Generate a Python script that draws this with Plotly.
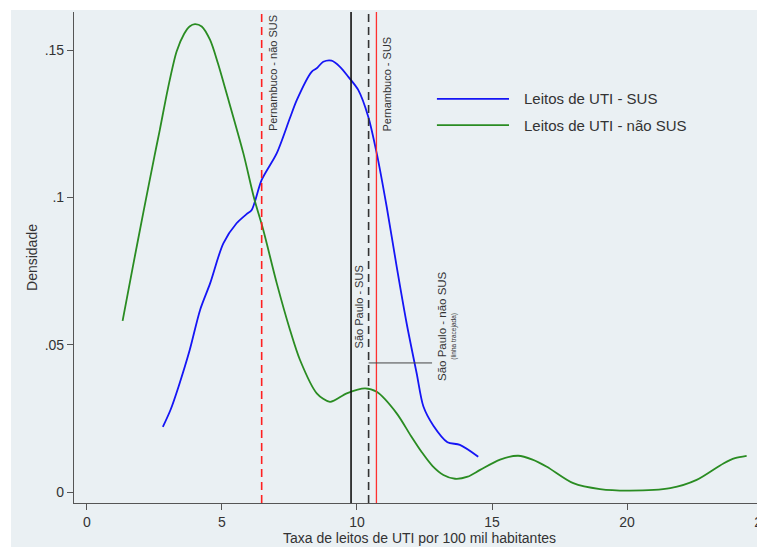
import plotly.graph_objects as go

# Density curves
sus_x = [2.81, 3.1, 3.4, 3.8, 4.19, 4.56, 5.05, 5.54, 5.91, 6.1, 6.47, 7.03, 7.52, 7.77,
         8.32, 8.51, 8.75, 9.06, 9.37, 9.68, 10.05, 10.42, 10.73, 11.1, 11.47, 11.84,
         12.21, 12.46, 12.83, 13.35, 13.81, 14.49]
sus_y = [0.0221, 0.028, 0.036, 0.048, 0.0618, 0.0708, 0.0844, 0.0912, 0.0943, 0.0957,
         0.1059, 0.115, 0.127, 0.133, 0.1426, 0.1438, 0.146, 0.1464, 0.1443, 0.1409,
         0.1364, 0.1273, 0.115, 0.0968, 0.0765, 0.0572, 0.0403, 0.029, 0.0225, 0.0169,
         0.016, 0.012]

nsus_x = [1.32, 1.7, 2.09, 2.5, 2.7, 3.0, 3.32, 3.6, 3.8, 4.0, 4.25, 4.56, 4.85, 5.17,
          5.79, 6.19, 6.53, 7.03, 7.52, 7.89, 8.51, 9.0, 9.62, 10.3, 10.73, 11.47, 12.0,
          12.4, 12.8, 13.2, 13.63, 14.1, 14.56, 15.3, 15.97, 16.5, 17.03, 18.01, 19.0,
          20.1, 21.6, 22.58, 23.57, 24.0, 24.43]
nsus_y = [0.0581, 0.0765, 0.095, 0.114, 0.123, 0.137, 0.1495, 0.1555, 0.158, 0.1588,
          0.158, 0.1534, 0.1455, 0.1353, 0.115, 0.0997, 0.0889, 0.0708, 0.055, 0.0448,
          0.0335, 0.0306, 0.0335, 0.0352, 0.034, 0.0267, 0.019, 0.0135, 0.0088, 0.0058,
          0.0045, 0.0052, 0.0075, 0.011, 0.0123, 0.011, 0.0086, 0.003, 0.001, 0.0005,
          0.0013, 0.0041, 0.0097, 0.0115, 0.0123]

series_names = ["Leitos de UTI - SUS", "Leitos de UTI - não SUS"]

# Reference lines
pe_nsus = 6.47
sp_sus = 9.78
sp_nsus = 10.43
pe_sus = 10.72

x_ticks = [0, 5, 10, 15, 20, 25]
y_ticks = [0, 0.05, 0.1, 0.15]
y_ticktext = ["0", ".05", ".1", ".15"]

BLUE = "#1515f5"
GREEN = "#2a8c22"
FONT = "Liberation Sans, Arial, sans-serif"
TXT = "#333333"

fig = go.Figure()
fig.add_trace(go.Scatter(x=sus_x, y=sus_y, mode="lines", name=series_names[0],
                         line=dict(color=BLUE, width=1.8, shape="spline", smoothing=0.8),
                         showlegend=False))
fig.add_trace(go.Scatter(x=nsus_x, y=nsus_y, mode="lines", name=series_names[1],
                         line=dict(color=GREEN, width=1.8, shape="spline", smoothing=0.8),
                         showlegend=False))

shapes = []
# outer grey background region
shapes.append(dict(type="rect", xref="paper", yref="paper", x0=-0.0912, x1=1.0,
                   y0=-0.0896, y1=1.004, fillcolor="#eaf0f3", line=dict(width=0),
                   layer="below"))
# vertical reference lines
shapes.append(dict(type="line", xref="x", yref="y domain", x0=pe_nsus, x1=pe_nsus, y0=0, y1=1,
                   line=dict(color="#ff2020", width=1.6, dash="8px,5px")))
shapes.append(dict(type="line", xref="x", yref="y domain", x0=sp_sus, x1=sp_sus, y0=0, y1=1,
                   line=dict(color="#111111", width=1.6)))
shapes.append(dict(type="line", xref="x", yref="y domain", x0=sp_nsus, x1=sp_nsus, y0=0, y1=1,
                   line=dict(color="#333333", width=1.6, dash="8px,5px")))
shapes.append(dict(type="line", xref="x", yref="y domain", x0=pe_sus, x1=pe_sus, y0=0, y1=1,
                   line=dict(color="#ff3030", width=1.3)))
# connector for São Paulo - não SUS
shapes.append(dict(type="line", xref="x", yref="y", x0=sp_nsus, x1=12.78, y0=0.0438, y1=0.0438,
                   line=dict(color="#444444", width=1)))
# manual legend keys
shapes.append(dict(type="line", xref="x", yref="y", x0=12.96, x1=15.63, y0=0.1334, y1=0.1334,
                   line=dict(color=BLUE, width=1.8)))
shapes.append(dict(type="line", xref="x", yref="y", x0=12.96, x1=15.63, y0=0.1245, y1=0.1245,
                   line=dict(color=GREEN, width=1.8)))

annotations = []
def vlabel(text, x, y, size):
    annotations.append(dict(text=text, x=x, y=y, xref="x", yref="y", showarrow=False,
                            textangle=-90, xanchor="center", yanchor="bottom",
                            font=dict(family=FONT, size=size, color=TXT)))

vlabel("Pernambuco - não SUS", 6.89, 0.1218, 11)
vlabel("Pernambuco - SUS", 11.11, 0.1218, 11)
vlabel("São Paulo - SUS", 10.11, 0.0482, 11)
vlabel("São Paulo - não SUS", 13.15, 0.037, 11.5)
vlabel("(linha tracejada)", 13.56, 0.0441, 6.5)

for name, yy in zip(series_names, [0.1334, 0.1245]):
    annotations.append(dict(text=name, x=16.1, y=yy, xref="x", yref="y", showarrow=False,
                            xanchor="left", yanchor="middle",
                            font=dict(family=FONT, size=15, color=TXT)))

fig.update_layout(
    width=757, height=539,
    margin=dict(l=66, r=0, t=4, b=44),
    paper_bgcolor="white",
    plot_bgcolor="white",
    shapes=shapes,
    annotations=annotations,
    font=dict(family=FONT, size=14, color=TXT),
    xaxis=dict(range=[-0.48, 25.11], tickvals=x_ticks, ticks="outside", ticklen=6,
               tickcolor="#555555", showgrid=False, zeroline=False, showline=True,
               linecolor="#555555", linewidth=1.2, ticklabeloverflow="allow",
               automargin=False,
               tickfont=dict(family=FONT, size=14, color=TXT),
               title=dict(text="Taxa de leitos de UTI por 100 mil habitantes",
                          font=dict(family=FONT, size=14, color=TXT), standoff=1)),
    yaxis=dict(range=[-0.00373, 0.1629], tickvals=y_ticks, ticktext=y_ticktext,
               ticks="outside", ticklen=6, tickcolor="#555555", showgrid=False,
               zeroline=False, showline=True, linecolor="#555555", linewidth=1.2,
               automargin=False,
               tickfont=dict(family=FONT, size=14, color=TXT),
               title=dict(text="Densidade", font=dict(family=FONT, size=14, color=TXT),
                          standoff=3)),
)

fig.write_html("out.html")
